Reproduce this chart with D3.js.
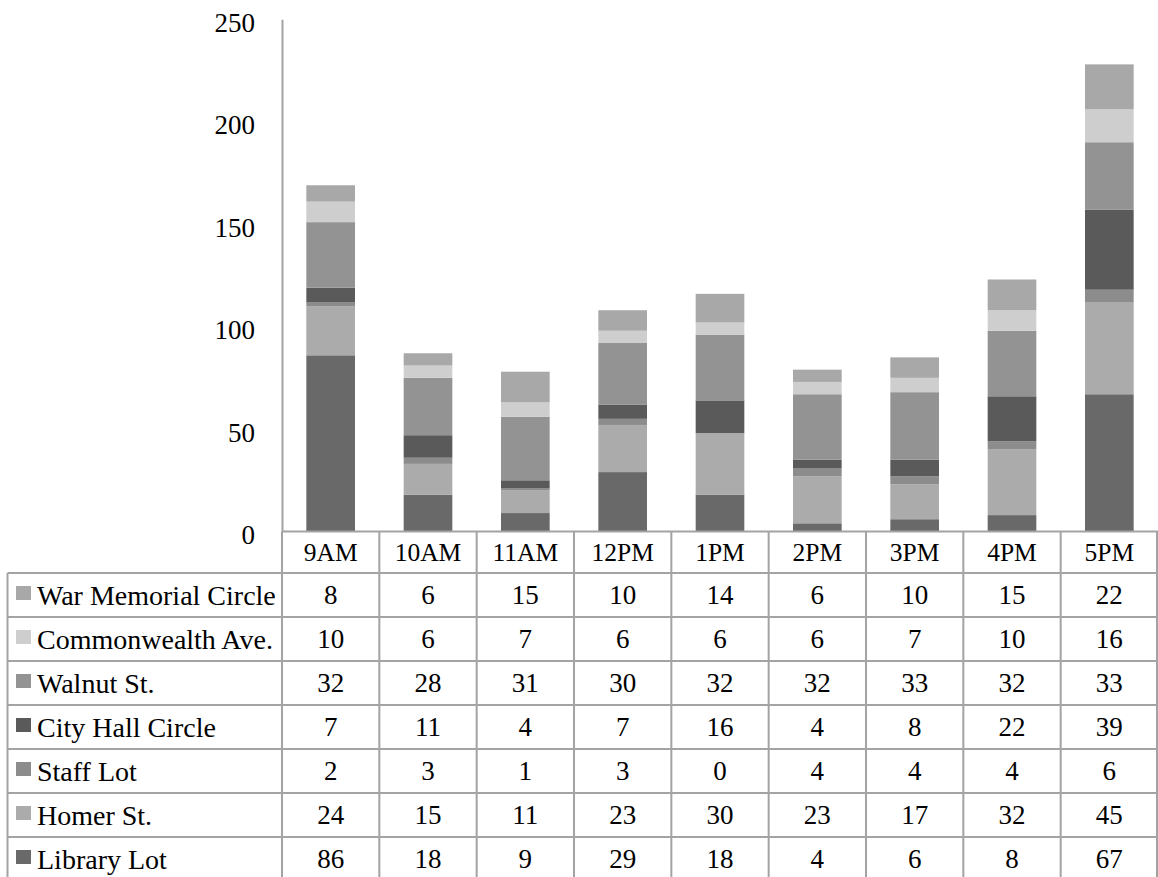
<!DOCTYPE html>
<html>
<head>
<meta charset="utf-8">
<script src="https://cdn.jsdelivr.net/npm/d3@7"></script>
<style>
  html, body { margin: 0; padding: 0; background: #fff; }
  svg { display: block; }
  text { font-family: "Liberation Serif", "DejaVu Serif", serif; fill: #000; }
</style>
</head>
<body>
<svg id="chart" width="1158" height="877"></svg>
<script>
// Hourly parking counts by location
const hours = ["9AM", "10AM", "11AM", "12PM", "1PM", "2PM", "3PM", "4PM", "5PM"];

const libraryLot      = [86, 18, 9, 29, 18, 4, 6, 8, 67];
const homerSt         = [24, 15, 11, 23, 30, 23, 17, 32, 45];
const staffLot        = [2, 3, 1, 3, 0, 4, 4, 4, 6];
const cityHallCircle  = [7, 11, 4, 7, 16, 4, 8, 22, 39];
const walnutSt        = [32, 28, 31, 30, 32, 32, 33, 32, 33];
const commonwealthAve = [10, 6, 7, 6, 6, 6, 7, 10, 16];
const warMemorial     = [8, 6, 15, 10, 14, 6, 10, 15, 22];

const yTicks = [0, 50, 100, 150, 200, 250];

// stacking order, bottom to top
const series = [
  { name: "Library Lot",          values: libraryLot,      color: "#696969" },
  { name: "Homer St.",            values: homerSt,         color: "#ababab" },
  { name: "Staff Lot",            values: staffLot,        color: "#8c8c8c" },
  { name: "City Hall Circle",     values: cityHallCircle,  color: "#5a5a5a" },
  { name: "Walnut St.",           values: walnutSt,        color: "#939393" },
  { name: "Commonwealth Ave.",    values: commonwealthAve, color: "#cecece" },
  { name: "War Memorial Circle",  values: warMemorial,     color: "#a8a8a8" }
];

const svg = d3.select("#chart");
const W = 1158;
const plotLeft = 282, plotRight = 1158, plotTop = 19.3, plotBottom = 531.5;
const tableLeft = 7.5;
const headerBottom = 573;
const rowH = 44;
const lineColor = "#a3a3a3";
const numSize = 27, labelSize = 28, headerSize = 25.5;

const x = d3.scaleBand().domain(hours).range([plotLeft, plotRight]).paddingInner(0.5).paddingOuter(0.25);
const xCell = d3.scaleBand().domain(hours).range([plotLeft, plotRight]);
const y = d3.scaleLinear().domain([0, 250]).range([plotBottom, plotTop]);

// stacked data
const rows = hours.map((h, i) => {
  const o = { hour: h };
  series.forEach(s => { o[s.name] = s.values[i]; });
  return o;
});
const stacked = d3.stack().keys(series.map(s => s.name))(rows);

const bars = svg.append("g");
stacked.forEach((layer, li) => {
  bars.append("g")
    .attr("fill", series[li].color)
    .selectAll("rect")
    .data(layer)
    .join("rect")
    .attr("x", d => x(d.data.hour))
    .attr("width", x.bandwidth())
    .attr("y", d => y(d[1]))
    .attr("height", d => y(d[0]) - y(d[1]));
});

// value axis
const yAxis = d3.axisLeft(y).tickValues(yTicks).tickSize(0).tickPadding(27);
const ya = svg.append("g").attr("transform", `translate(${plotLeft},0)`).call(yAxis);
ya.select(".domain").attr("stroke", lineColor).attr("stroke-width", 2);
ya.selectAll("text").attr("font-size", numSize).attr("font-family", "Liberation Serif").attr("dy", "0.45em");

// data table
const table = svg.append("g");
const nRows = series.length;
const tableBottom = headerBottom + nRows * rowH + 20;

// header row labels
table.selectAll("text.hdr")
  .data(hours)
  .join("text")
  .attr("class", "hdr")
  .attr("x", d => xCell(d) + xCell.bandwidth() / 2)
  .attr("y", (plotBottom + headerBottom) / 2)
  .attr("dy", "0.35em")
  .attr("text-anchor", "middle")
  .attr("font-size", headerSize)
  .text(d => d);

// rows: top series first
const tableSeries = series.slice().reverse();
tableSeries.forEach((s, ri) => {
  const cy = headerBottom + ri * rowH + rowH / 2;
  table.append("rect")
    .attr("x", 16).attr("y", cy - 9)
    .attr("width", 15).attr("height", 14)
    .attr("fill", s.color);
  table.append("text")
    .attr("x", 37).attr("y", cy).attr("dy", "0.35em")
    .attr("font-size", labelSize)
    .text(s.name);
  table.selectAll(null)
    .data(s.values)
    .join("text")
    .attr("x", (d, i) => xCell(hours[i]) + xCell.bandwidth() / 2)
    .attr("y", cy).attr("dy", "0.35em")
    .attr("text-anchor", "middle")
    .attr("font-size", numSize)
    .text(d => d);
});

// grid lines
const grid = table.append("g").attr("stroke", lineColor).attr("stroke-width", 2).attr("fill", "none");
grid.append("line").attr("x1", plotLeft).attr("x2", plotRight).attr("y1", plotBottom).attr("y2", plotBottom);
d3.range(nRows).forEach(r => {
  const yy = headerBottom + r * rowH;
  grid.append("line").attr("x1", tableLeft).attr("x2", W).attr("y1", yy).attr("y2", yy);
});
grid.append("line").attr("x1", tableLeft).attr("x2", tableLeft).attr("y1", headerBottom).attr("y2", tableBottom);
hours.forEach(h => {
  const xx = xCell(h);
  grid.append("line").attr("x1", xx).attr("x2", xx).attr("y1", plotBottom).attr("y2", tableBottom);
});
grid.append("line").attr("x1", W - 1).attr("x2", W - 1).attr("y1", plotBottom).attr("y2", tableBottom);
</script>
</body>
</html>
